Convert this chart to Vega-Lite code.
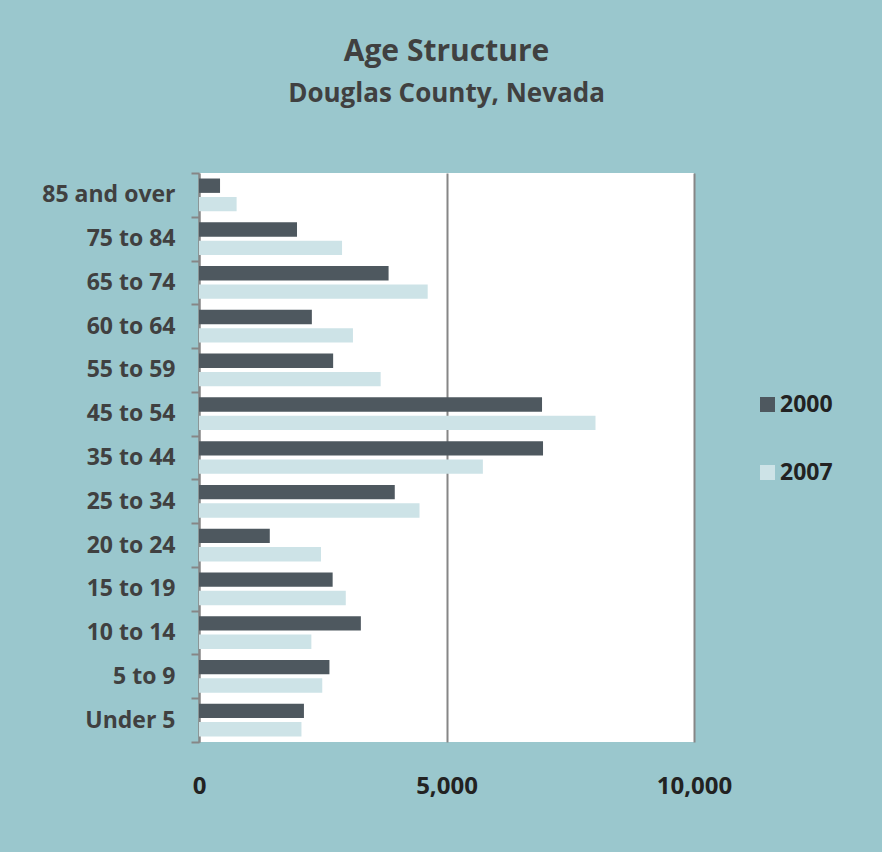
{
  "$schema": "https://vega.github.io/schema/vega-lite/v6.json",
  "autosize": {"type": "none"},
  "width": 495,
  "height": 569,
  "padding": {"left": 199, "top": 173, "right": 188, "bottom": 110},
  "background": "#9AC7CD",
  "title": {
    "text": "Age Structure",
    "subtitle": "Douglas County, Nevada",
    "anchor": "middle",
    "frame": "group",
    "font": "Open Sans",
    "fontSize": 30,
    "fontWeight": "bold",
    "color": "#404040",
    "subtitleFont": "Open Sans",
    "subtitleFontSize": 26,
    "subtitleFontWeight": "bold",
    "subtitleColor": "#404040",
    "subtitlePadding": 14,
    "offset": 55
  },
  "data": {
    "values": [
      {"age": "85 and over", "year": "2000", "population": 425},
      {"age": "85 and over", "year": "2007", "population": 760},
      {"age": "75 to 84", "year": "2000", "population": 1980},
      {"age": "75 to 84", "year": "2007", "population": 2890},
      {"age": "65 to 74", "year": "2000", "population": 3830},
      {"age": "65 to 74", "year": "2007", "population": 4620},
      {"age": "60 to 64", "year": "2000", "population": 2280},
      {"age": "60 to 64", "year": "2007", "population": 3110},
      {"age": "55 to 59", "year": "2000", "population": 2710},
      {"age": "55 to 59", "year": "2007", "population": 3670},
      {"age": "45 to 54", "year": "2000", "population": 6930},
      {"age": "45 to 54", "year": "2007", "population": 8010},
      {"age": "35 to 44", "year": "2000", "population": 6950},
      {"age": "35 to 44", "year": "2007", "population": 5735},
      {"age": "25 to 34", "year": "2000", "population": 3955},
      {"age": "25 to 34", "year": "2007", "population": 4455},
      {"age": "20 to 24", "year": "2000", "population": 1430},
      {"age": "20 to 24", "year": "2007", "population": 2465},
      {"age": "15 to 19", "year": "2000", "population": 2700},
      {"age": "15 to 19", "year": "2007", "population": 2965},
      {"age": "10 to 14", "year": "2000", "population": 3270},
      {"age": "10 to 14", "year": "2007", "population": 2270},
      {"age": "5 to 9", "year": "2000", "population": 2635},
      {"age": "5 to 9", "year": "2007", "population": 2490},
      {"age": "Under 5", "year": "2000", "population": 2120},
      {"age": "Under 5", "year": "2007", "population": 2070}
    ]
  },
  "mark": {"type": "bar"},
  "encoding": {
    "y": {
      "field": "age",
      "type": "nominal",
      "scale": {
        "domain": ["85 and over", "75 to 84", "65 to 74", "60 to 64", "55 to 59", "45 to 54", "35 to 44", "25 to 34", "20 to 24", "15 to 19", "10 to 14", "5 to 9", "Under 5"],
        "paddingInner": 0,
        "paddingOuter": 0
      },
      "axis": {
        "title": null,
        "tickBand": "extent",
        "tickSize": 8,
        "tickWidth": 2,
        "tickColor": "#868686",
        "domainColor": "#868686",
        "domainWidth": 2,
        "labelFont": "Open Sans",
        "labelFontSize": 23,
        "labelFontWeight": "bold",
        "labelColor": "#404040",
        "labelPadding": 16,
        "grid": false
      }
    },
    "yOffset": {
      "field": "year",
      "type": "nominal",
      "scale": {"paddingInner": 0.217, "paddingOuter": 0.3}
    },
    "x": {
      "field": "population",
      "type": "quantitative",
      "scale": {"domain": [0, 10000], "nice": false},
      "axis": {
        "title": null,
        "values": [0, 5000, 10000],
        "format": ",d",
        "ticks": false,
        "tickSize": 0,
        "domain": false,
        "grid": true,
        "gridColor": "#868686",
        "gridWidth": 2,
        "labelFont": "Open Sans",
        "labelFontSize": 24,
        "labelFontWeight": "bold",
        "labelColor": "#222222",
        "labelPadding": 32,
        "labelFlush": false
      }
    },
    "color": {
      "field": "year",
      "type": "nominal",
      "scale": {"domain": ["2000", "2007"], "range": ["#4E585F", "#CDE3E7"]},
      "legend": {
        "title": null,
        "orient": "none",
        "legendX": 557,
        "legendY": 220,
        "padding": 0,
        "symbolType": "square",
        "symbolSize": 225,
        "symbolStrokeWidth": 0,
        "symbolOpacity": 1,
        "labelFont": "Open Sans",
        "labelFontSize": 23,
        "labelFontWeight": "bold",
        "labelColor": "#222222",
        "labelOffset": 1,
        "rowPadding": 44
      }
    }
  },
  "config": {
    "view": {"fill": "white", "stroke": null}
  }
}
